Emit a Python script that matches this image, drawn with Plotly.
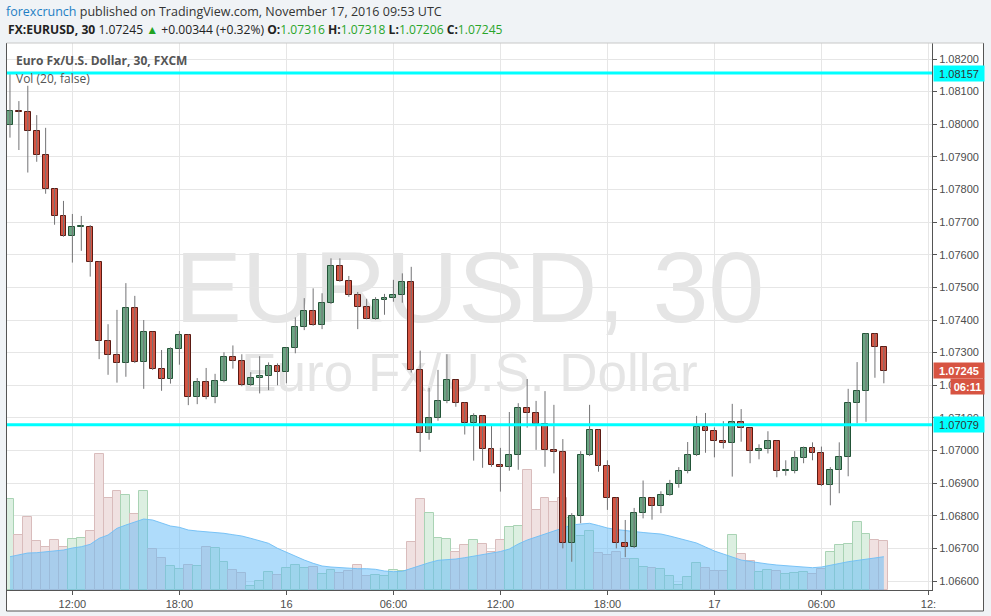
import plotly.graph_objects as go
import pandas as pd

# ---------------- data ----------------
times = pd.date_range("2016-11-15 08:30", periods=99, freq="30min")

opens = [1.07997, 1.08040, 1.08037, 1.07980, 1.07905, 1.07801, 1.07718, 1.07657, 1.07684, 1.07686,
         1.07577, 1.07335, 1.07292, 1.07267, 1.07436, 1.07270, 1.07362, 1.07249, 1.07218, 1.07310,
         1.07353, 1.07163, 1.07209, 1.07163, 1.07212, 1.07286, 1.07273, 1.07200, 1.07221, 1.07227,
         1.07258, 1.07240, 1.07313, 1.07378, 1.07427, 1.07384, 1.07451, 1.07566, 1.07520, 1.07476,
         1.07441, 1.07404, 1.07460, 1.07467, 1.07476, 1.07517, 1.07246, 1.07053, 1.07099, 1.07152,
         1.07215, 1.07145, 1.07083, 1.07105, 1.07004, 1.06955, 1.06950, 1.06985, 1.07129, 1.07116,
         1.07081, 1.07001, 1.06995, 1.06716, 1.06800, 1.06985, 1.07062, 1.06952, 1.06854, 1.06716,
         1.06703, 1.06808, 1.06854, 1.06829, 1.06863, 1.06896, 1.06936, 1.06985, 1.07071, 1.07059,
         1.07028, 1.07022, 1.07086, 1.07068, 1.06998, 1.07004, 1.07028, 1.06936, 1.06938, 1.06976,
         1.07007, 1.06991, 1.06893, 1.06939, 1.06979, 1.07145, 1.07182, 1.07356, 1.07316]
highs = [1.08156, 1.08071, 1.08118, 1.08028, 1.07989, 1.07804, 1.07765, 1.07725, 1.07719, 1.07691,
         1.07580, 1.07387, 1.07431, 1.07513, 1.07474, 1.07400, 1.07364, 1.07308, 1.07316, 1.07366,
         1.07356, 1.07222, 1.07253, 1.07235, 1.07301, 1.07322, 1.07295, 1.07240, 1.07289, 1.07270,
         1.07267, 1.07316, 1.07408, 1.07467, 1.07497, 1.07482, 1.07589, 1.07589, 1.07535, 1.07486,
         1.07465, 1.07470, 1.07480, 1.07523, 1.07543, 1.07563, 1.07306, 1.07192, 1.07247, 1.07295,
         1.07217, 1.07147, 1.07114, 1.07107, 1.07076, 1.07008, 1.07118, 1.07145, 1.07219, 1.07152,
         1.07182, 1.07140, 1.07035, 1.06808, 1.06998, 1.07140, 1.07064, 1.06970, 1.06856, 1.06787,
         1.06824, 1.06908, 1.06856, 1.06875, 1.06910, 1.06949, 1.07026, 1.07106, 1.07115, 1.07071,
         1.07090, 1.07143, 1.07127, 1.07070, 1.07019, 1.07059, 1.07030, 1.06970, 1.06998, 1.07012,
         1.07025, 1.07012, 1.06949, 1.07025, 1.07189, 1.07271, 1.07359, 1.07359, 1.07318]
lows = [1.07959, 1.07921, 1.07852, 1.07885, 1.07787, 1.07692, 1.07655, 1.07576, 1.07612, 1.07533,
        1.07280, 1.07232, 1.07208, 1.07226, 1.07268, 1.07189, 1.07247, 1.07183, 1.07205, 1.07263,
        1.07139, 1.07142, 1.07157, 1.07145, 1.07209, 1.07251, 1.07197, 1.07198, 1.07175, 1.07185,
        1.07200, 1.07206, 1.07298, 1.07369, 1.07382, 1.07372, 1.07449, 1.07517, 1.07471, 1.07372,
        1.07402, 1.07401, 1.07416, 1.07456, 1.07453, 1.07239, 1.06996, 1.07033, 1.07091, 1.07145,
        1.07134, 1.07049, 1.06969, 1.06947, 1.06950, 1.06874, 1.06938, 1.06941, 1.07070, 1.07002,
        1.06950, 1.06930, 1.06700, 1.06659, 1.06777, 1.06983, 1.06935, 1.06818, 1.06700, 1.06673,
        1.06701, 1.06792, 1.06788, 1.06808, 1.06861, 1.06886, 1.06930, 1.06983, 1.06993, 1.06979,
        1.07006, 1.06920, 1.07027, 1.06961, 1.06973, 1.06991, 1.06918, 1.06923, 1.06930, 1.06961,
        1.06970, 1.06891, 1.06832, 1.06869, 1.06921, 1.07083, 1.07088, 1.07223, 1.07206]
closes = [1.08040, 1.08038, 1.07980, 1.07905, 1.07801, 1.07718, 1.07657, 1.07684, 1.07686, 1.07577,
          1.07335, 1.07292, 1.07267, 1.07436, 1.07270, 1.07362, 1.07249, 1.07218, 1.07310, 1.07353,
          1.07163, 1.07209, 1.07163, 1.07212, 1.07286, 1.07273, 1.07200, 1.07221, 1.07227, 1.07258,
          1.07240, 1.07313, 1.07378, 1.07427, 1.07384, 1.07451, 1.07566, 1.07520, 1.07476, 1.07441,
          1.07404, 1.07460, 1.07467, 1.07476, 1.07517, 1.07246, 1.07053, 1.07099, 1.07152, 1.07215,
          1.07145, 1.07083, 1.07105, 1.07004, 1.06955, 1.06950, 1.06985, 1.07129, 1.07116, 1.07081,
          1.07001, 1.06995, 1.06716, 1.06800, 1.06985, 1.07062, 1.06952, 1.06854, 1.06716, 1.06703,
          1.06808, 1.06854, 1.06829, 1.06863, 1.06896, 1.06936, 1.06985, 1.07071, 1.07059, 1.07028,
          1.07022, 1.07086, 1.07068, 1.06998, 1.07004, 1.07028, 1.06936, 1.06938, 1.06976, 1.07007,
          1.06991, 1.06893, 1.06939, 1.06979, 1.07145, 1.07182, 1.07356, 1.07316, 1.07245]
volumes = [91, 55, 73, 49, 43, 50, 43, 51, 52, 59,
           136, 92, 99, 95, 76, 99, 41, 32, 24, 21,
           25, 24, 43, 42, 28, 20, 17, 4, 9, 18,
           15, 22, 25, 22, 23, 16, 20, 17, 19, 25,
           14, 15, 14, 20, 19, 48, 91, 77, 52, 51,
           38, 45, 50, 46, 38, 50, 63, 64, 120, 80,
           92, 88, 92, 72, 54, 59, 37, 35, 38, 31,
           31, 23, 22, 21, 14, 5, 13, 27, 22, 19,
           19, 55, 36, 29, 18, 20, 19, 16, 17, 18,
           16, 21, 38, 45, 46, 68, 56, 50, 49]
vol_ma20 = [33.3, 35, 37, 37.3, 38.3, 39.5, 40, 42, 43.3, 45.7,
            51.7, 55, 61.7, 65, 68.3, 71, 70, 66.7, 64, 62.7,
            60, 59, 58.3, 58, 56.7, 55.3, 54, 51.7, 49.3, 46.7,
            41.7, 37.7, 34, 30, 26.7, 24, 23, 22.3, 21.7, 21.3,
            21.3, 20.7, 19, 18.3, 18.7, 21.7, 25, 27.3, 29.7, 30.3,
            31, 32.3, 34, 35.3, 36.7, 38.5, 41, 46, 50, 53,
            56, 59, 62, 65, 66, 66.7, 64.5, 62, 60.5, 59.3,
            58.5, 57.5, 56.7, 56, 54, 51.7, 49, 47, 43, 39,
            36, 33, 30, 28.5, 27, 26, 25, 24.3, 23.5, 22.5,
            22.3, 23, 24.5, 26.5, 28.3, 29.5, 30.7, 32, 33.3]

level_lines = [1.08157, 1.07079]
tick_times = pd.date_range("2016-11-15 12:00", periods=9, freq="6h")
tick_labels = ["12:00", "18:00", "16", "06:00", "12:00", "18:00", "17", "06:00", "12:"]
countdown = "06:11"

# ---------------- styling ----------------
UP_FILL, UP_LINE = "#6ba583", "#225437"
DN_FILL, DN_LINE = "#d75442", "#5b1a13"
WICK = "#737375"
GRID = "#e6e6e6"
AXIS = "#555555"
TXT = "#4d4d4d"
FONT = "Open Sans"

W, H = 991, 616
PL, PR, PT, PB = 7, 932, 43, 590


def xp(px):
    return (px - PL) / (PR - PL)


def yp(py):
    return (PB - py) / (PB - PT)


up = [c >= o for o, c in zip(opens, closes)]
body_base = [min(o, c) for o, c in zip(opens, closes)]
body_h = [max(abs(c - o), 0.00004) for o, c in zip(opens, closes)]

wx, wy = [], []
for t, lo, hi in zip(times, lows, highs):
    wx += [t, t, None]
    wy += [lo, hi, None]

fig = go.Figure()

# volume bars (main y axis, hidden)
fig.add_trace(go.Bar(
    x=times, y=volumes, width=30 * 60 * 1000,
    marker=dict(color=["#dcefe1" if u else "#f0e1e1" for u in up],
                line=dict(color=["#a9d3b4" if u else "#d9bcbc" for u in up], width=1)),
    yaxis="y", hoverinfo="skip"))
# volume moving average area
fig.add_trace(go.Scatter(
    x=times, y=vol_ma20, mode="lines", fill="tozeroy",
    fillcolor="rgba(96,186,247,0.5)", line=dict(color="rgba(110,190,245,0.9)", width=1),
    yaxis="y", hoverinfo="skip"))
# wicks
fig.add_trace(go.Scatter(
    x=wx, y=wy, mode="lines", line=dict(color=WICK, width=1),
    yaxis="y2", hoverinfo="skip", connectgaps=False))
# bodies
fig.add_trace(go.Bar(
    x=times, y=body_h, base=body_base, width=20 * 60 * 1000,
    marker=dict(color=[UP_FILL if u else DN_FILL for u in up],
                line=dict(color=[UP_LINE if u else DN_LINE for u in up], width=1)),
    yaxis="y2", hoverinfo="skip"))

x_left = times[0] - pd.Timedelta(minutes=10)
x_right = pd.Timestamp("2016-11-17 12:12")
px_per_unit = 32625.0
y_top = 1.08200 + (59 - PT) / px_per_unit
y_bot = 1.06600 - (PB - 581) / px_per_unit

shapes = [
    dict(type="rect", xref="paper", yref="paper", x0=xp(6), x1=xp(984), y0=yp(611), y1=yp(PT),
         fillcolor="white", line=dict(width=0), layer="below"),
    dict(type="rect", xref="paper", yref="paper", x0=0.3, x1=0.7, y0=yp(278) - 0.08, y1=yp(278) + 0.08,
         line=dict(width=0), layer="between",
         label=dict(text="EURUSD, 30", font=dict(size=100, color="#e5e5e5", family="Liberation Sans"),
                    textposition="middle center")),
    dict(type="rect", xref="paper", yref="paper", x0=0.3, x1=0.7, y0=yp(367) - 0.05, y1=yp(367) + 0.05,
         line=dict(width=0), layer="between",
         label=dict(text="Euro Fx/U.S. Dollar", font=dict(size=53, color="#e5e5e5", family="Liberation Sans"),
                    textposition="middle center")),
    # chart box borders
    dict(type="line", xref="paper", yref="paper", x0=xp(6.5), x1=xp(6.5), y0=yp(611), y1=yp(PT),
         line=dict(color=AXIS, width=1)),
    dict(type="line", xref="paper", yref="paper", x0=xp(983.5), x1=xp(983.5), y0=yp(611), y1=yp(PT),
         line=dict(color=AXIS, width=1)),
    dict(type="line", xref="paper", yref="paper", x0=xp(6.5), x1=xp(983.5), y0=yp(611), y1=yp(611),
         line=dict(color=AXIS, width=1)),
    dict(type="line", xref="paper", yref="paper", x0=xp(6.5), x1=xp(983.5), y0=yp(PT), y1=yp(PT),
         line=dict(color="#c8c8c8", width=1)),
]
for lv in level_lines:
    shapes.append(dict(type="line", xref="paper", yref="y2", x0=0, x1=1, y0=lv, y1=lv,
                       line=dict(color="#00ffff", width=3)))

annotations = [
    dict(xref="paper", yref="paper", x=xp(4), y=yp(11.5), xanchor="left", yanchor="middle",
         showarrow=False, font=dict(family=FONT, size=12.5, color="#333333"),
         text="<span style='color:#1f7fc4'>forexcrunch</span> published on TradingView.com, "
              "November 17, 2016 09:53 UTC"),
    dict(xref="paper", yref="paper", x=xp(6), y=yp(29), xanchor="left", yanchor="middle",
         showarrow=False, font=dict(family=FONT, size=12.1, color="#222222"),
         text="<b>FX:EURUSD, 30</b> 1.07245 <span style='color:#22a322'>▲</span> +0.00344 (+0.32%) "
              "<b>O:</b><span style='color:#2aa52a'>1.07316</span> "
              "<b>H:</b><span style='color:#2aa52a'>1.07318</span> "
              "<b>L:</b><span style='color:#2aa52a'>1.07206</span> "
              "<b>C:</b><span style='color:#2aa52a'>1.07245</span>"),
    dict(xref="paper", yref="paper", x=xp(14), y=yp(60.5), xanchor="left", yanchor="middle",
         showarrow=False, font=dict(family=FONT, size=12, color="#555555"),
         text="<b>Euro Fx/U.S. Dollar, 30, FXCM</b>"),
    dict(xref="paper", yref="paper", x=xp(14), y=yp(78), xanchor="left", yanchor="middle",
         showarrow=False, font=dict(family=FONT, size=12, color="#555555"),
         text="Vol (20, false)"),
]
for lv in level_lines:
    annotations.append(dict(xref="paper", yref="y2", x=xp(933), y=lv, xanchor="left", yanchor="middle",
                            showarrow=False, text=f"{lv:.5f}", width=48, height=13, align="center",
                            bgcolor="#00ffff", borderpad=1,
                            font=dict(family="Liberation Sans", size=11, color="#333333")))
annotations.append(dict(xref="paper", yref="y2", x=xp(933), y=closes[-1], xanchor="left", yanchor="middle",
                        showarrow=False, text=f"<b>{closes[-1]:.5f}</b>", width=48, height=13, align="center",
                        bgcolor=DN_FILL, borderpad=1,
                        font=dict(family="Liberation Sans", size=11, color="white")))
annotations.append(dict(xref="paper", yref="y2", x=xp(950), y=closes[-1], yshift=-16,
                        xanchor="left", yanchor="middle",
                        showarrow=False, text=f"<b>{countdown}</b>", width=31, height=13, align="center",
                        bgcolor=DN_FILL, borderpad=1,
                        font=dict(family="Liberation Sans", size=11, color="white")))

fig.update_layout(
    width=W, height=H,
    margin=dict(l=PL, r=W - PR, t=PT, b=H - PB, pad=0),
    paper_bgcolor="#f0f3f6", plot_bgcolor="white",
    showlegend=False, barmode="overlay", bargap=0,
    xaxis=dict(type="date", range=[x_left, x_right], tickvals=tick_times, ticktext=tick_labels,
               showgrid=True, gridcolor=GRID, gridwidth=1, zeroline=False,
               showline=True, linecolor=AXIS, linewidth=1, ticks="outside", ticklen=4, tickcolor=AXIS,
               tickfont=dict(family="Liberation Sans", size=11, color=TXT), automargin=False,
               fixedrange=True),
    yaxis=dict(range=[0, PB - PT], visible=False, fixedrange=True, automargin=False),
    yaxis2=dict(overlaying="y", side="right", range=[y_bot, y_top], tick0=1.066, dtick=0.001,
                tickformat=".5f", showgrid=True, gridcolor=GRID, gridwidth=1, zeroline=False,
                showline=True, linecolor=AXIS, linewidth=1, ticks="outside", ticklen=4, tickcolor=AXIS,
                tickfont=dict(family="Liberation Sans", size=11, color=TXT), automargin=False,
                fixedrange=True),
    shapes=shapes, annotations=annotations,
)

fig.write_html("out.html", config={"displayModeBar": False},
               post_script="document.body.style.margin='0';document.body.style.overflow='hidden';")
